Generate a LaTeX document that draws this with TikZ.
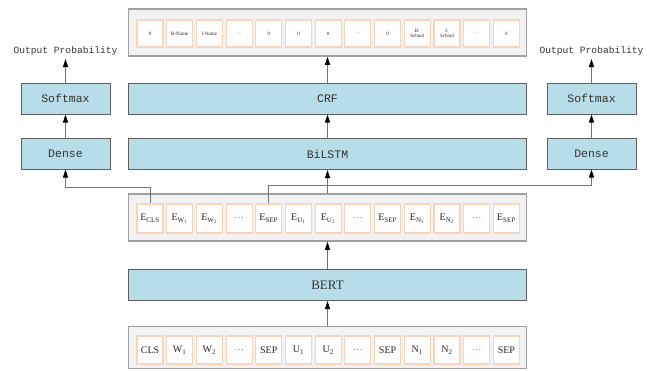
\documentclass[tikz,border=0pt]{standalone}
\usepackage{fontspec}
\setmainfont{Liberation Serif}
\newfontfamily\monofont{Liberation Mono}
\usetikzlibrary{arrows.meta, positioning}
\definecolor{layerblue}{RGB}{183, 221, 232}
\definecolor{layeredge}{RGB}{95, 95, 95}
\definecolor{tokenorange}{RGB}{250, 212, 186}
\definecolor{groupgray}{RGB}{242, 242, 242}
\definecolor{groupedge}{RGB}{160, 160, 160}
\newcommand{\emb}[1]{E\textsubscript{#1}}
\newcommand{\gdots}{\textcolor{gray}{\dots}}

\begin{document}
\begin{tikzpicture}[x=1pt, y=-1pt,
  layer/.style={draw=layeredge, fill=layerblue, line width=1pt, minimum height=31pt, font=\monofont\fontsize{11.5}{12}\selectfont, text=black!80},
  group/.style={draw=groupedge, fill=groupgray, line width=1.5pt, minimum width=398pt, minimum height=47pt},
  token/.style={draw=tokenorange, fill=white, line width=1.1pt, minimum width=26pt, minimum height=28pt, inner sep=1pt, align=center, text=black!85},
  arrow/.style={-{Triangle[length=8pt, width=5pt, color=black]}, draw=black!55, line width=0.8pt}
]
  \useasboundingbox (0, 0) rectangle (656, 370);

  % Tag output
  \node[group] (topc) at (327.5, 32.5) {};
  \foreach \lab [count=\i] in {0, B-Name, I-Name, \gdots, 0, 0, 0, \gdots, 0, {B-\\School}, {I-\\School}, \gdots, 0}
    \node[token, minimum height=27pt, font=\fontsize{5}{5.5}\selectfont] (t\i) at ({150+(\i-1)*29.7}, 33.5) {\lab};

  % Middle layers
  \node[layer, minimum width=398pt] (crf) at (327.5, 98.5) {CRF};
  \node[layer, minimum width=398pt] (bilstm) at (327.5, 154) {BiLSTM};

  % Embeddings
  \node[group] (embc) at (327.5, 217.5) {};
  \foreach \lab [count=\i] in {\emb{CLS}, \emb{W\textsubscript{1}}, \emb{W\textsubscript{2}}, \gdots, \emb{SEP}, \emb{U\textsubscript{1}}, \emb{U\textsubscript{2}}, \gdots, \emb{SEP}, \emb{N\textsubscript{1}}, \emb{N\textsubscript{2}}, \gdots, \emb{SEP}}
    \node[token, minimum height=29pt, font=\fontsize{10}{10}\selectfont] (e\i) at ({150+(\i-1)*29.7}, 218.5) {\lab};

  \node[layer, minimum width=398pt, font=\fontsize{13}{14}\selectfont] (bert) at (327.5, 285) {BERT};

  % Input tokens
  \node[group, minimum height=42pt] (inpc) at (327.5, 347.5) {};
  \foreach \lab [count=\i] in {CLS, W\textsubscript{1}, W\textsubscript{2}, \gdots, SEP, U\textsubscript{1}, U\textsubscript{2}, \gdots, SEP, N\textsubscript{1}, N\textsubscript{2}, \gdots, SEP}
    \node[token, font=\fontsize{10}{10}\selectfont] (w\i) at ({150+(\i-1)*29.7}, 350) {\lab};

  % Side heads
  \node[layer, minimum width=89pt] (lsoft) at (65.5, 98.5) {Softmax};
  \node[layer, minimum width=89pt] (ldense) at (65.5, 153.5) {Dense};
  \node[font=\monofont\fontsize{9.6}{10}\selectfont, text=black!80] (lout) at (65.5, 51) {Output Probability};
  \node[layer, minimum width=89pt] (rsoft) at (591.5, 98.5) {Softmax};
  \node[layer, minimum width=89pt] (rdense) at (591.5, 153.5) {Dense};
  \node[font=\monofont\fontsize{9.6}{10}\selectfont, text=black!80] (rout) at (591.5, 51) {Output Probability};

  \draw[arrow] (inpc.north) -- (bert.south);
  \draw[arrow] (bert.north) -- (embc.south);
  \draw[arrow] (embc.north) -- (bilstm.south);
  \draw[arrow] (bilstm) -- (crf);
  \draw[arrow] (crf) -- (topc);
  \draw[arrow] (ldense) -- (lsoft);
  \draw[arrow] (lsoft) -- (lout);
  \draw[arrow] (rdense) -- (rsoft);
  \draw[arrow] (rsoft) -- (rout);

  % Branches to the side heads
  \draw[arrow] (e1.north) -- ++(0, -16) -| (ldense.south);
  \draw[arrow] (e5.north) -- ++(0, -18) -| (rdense.south);
\end{tikzpicture}
\end{document}
